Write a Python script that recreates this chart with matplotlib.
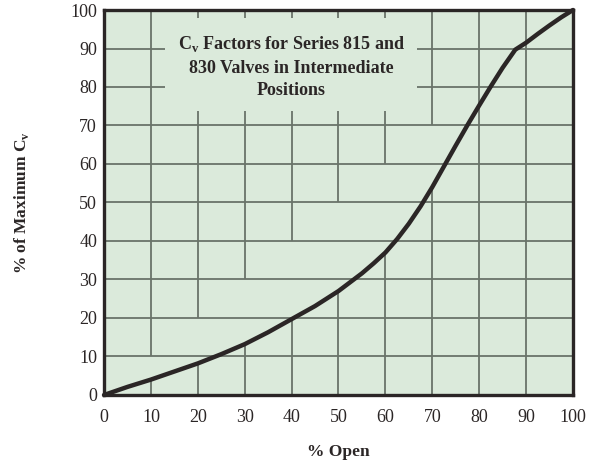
import matplotlib
matplotlib.use("Agg")
import matplotlib.pyplot as plt
import numpy as np

# % open vs % of max Cv
pct_open = [0, 5, 10, 15, 20, 25, 30, 35, 40, 45, 50, 55, 57.5, 60, 62.5, 65, 67.5, 70,
            72.5, 75, 77.5, 80, 82.5, 85, 87.7, 90, 92.5, 95, 97.5, 100]
pct_cv = [0, 2.1, 4.0, 6.1, 8.2, 10.6, 13.2, 16.3, 19.7, 23.1, 27.0, 31.6, 34.2, 37.0,
          40.5, 44.5, 49.0, 54.0, 59.4, 64.8, 70.1, 75.2, 80.2, 85.0, 89.7, 91.5,
          93.8, 96.0, 98.1, 100]

x_ticks = [0, 10, 20, 30, 40, 50, 60, 70, 80, 90, 100]
y_ticks = [0, 10, 20, 30, 40, 50, 60, 70, 80, 90, 100]

title_lines = ["C$_\\mathregular{v}$ Factors for Series 815 and",
               "830 Valves in Intermediate",
               "Positions"]

plt.rcParams['font.family'] = ['Liberation Serif', 'DejaVu Serif']
plt.rcParams['mathtext.fontset'] = 'custom'
plt.rcParams['mathtext.rm'] = 'Liberation Serif:bold'

bg = '#dbeadb'
grid_col = '#6a736a'
ink = '#2b2626'

fig = plt.figure(figsize=(6.03, 4.61), dpi=100)
ax = fig.add_axes([0.1725, 0.1432, 0.7777, 0.8351])
ax.set_facecolor(bg)

# title area inside the plot, where grid lines are left out
tx0, tx1, ty0, ty1 = 13, 66.7, 73.8, 98

# vertical grid lines: gap between the curve and the diagonal
for gx in x_ticks[1:-1]:
    cy = np.interp(gx, pct_open, pct_cv)
    if gx - cy > 5:
        segs = [(0, cy), (gx, 100)]
    else:
        segs = [(0, 100)]
    if tx0 < gx < tx1:
        new = []
        for a, b in segs:
            if b <= ty0 or a >= ty1:
                new.append((a, b))
            else:
                if a < ty0:
                    new.append((a, ty0))
                if b > ty1:
                    new.append((ty1, b))
        segs = new
    for a, b in segs:
        ax.vlines(gx, a, b, color=grid_col, lw=1.3, zorder=1)

# horizontal grid lines
for gy in y_ticks[1:-1]:
    if ty0 < gy < ty1:
        ax.hlines(gy, 0, tx0, color=grid_col, lw=1.3, zorder=1)
        ax.hlines(gy, tx1, 100, color=grid_col, lw=1.3, zorder=1)
    else:
        ax.hlines(gy, 0, 100, color=grid_col, lw=1.3, zorder=1)

ax.plot(pct_open, pct_cv, color=ink, lw=3.2, solid_joinstyle='round',
        solid_capstyle='round', zorder=3, clip_on=False)

ax.text(40, 85.3, "\n".join(title_lines), ha='center', va='center',
        fontsize=13, fontweight='bold', color=ink, linespacing=1.4)

ax.set_xlim(0, 100)
ax.set_ylim(0, 100)
ax.set_xticks(x_ticks)
ax.set_yticks(y_ticks)
ax.tick_params(length=0, labelsize=13, colors=ink)
ax.tick_params(axis='x', pad=10)
ax.tick_params(axis='y', pad=5)

for s in ax.spines.values():
    s.set_color(ink)
    s.set_linewidth(2.4)

ax.set_xlabel("% Open", fontsize=12.5, fontweight='bold', color=ink, labelpad=13)
ax.set_ylabel("% of Maximum C$_\\mathregular{v}$", fontsize=12.5, fontweight='bold',
              color=ink, labelpad=28)

fig.savefig("out.png", dpi=100)
